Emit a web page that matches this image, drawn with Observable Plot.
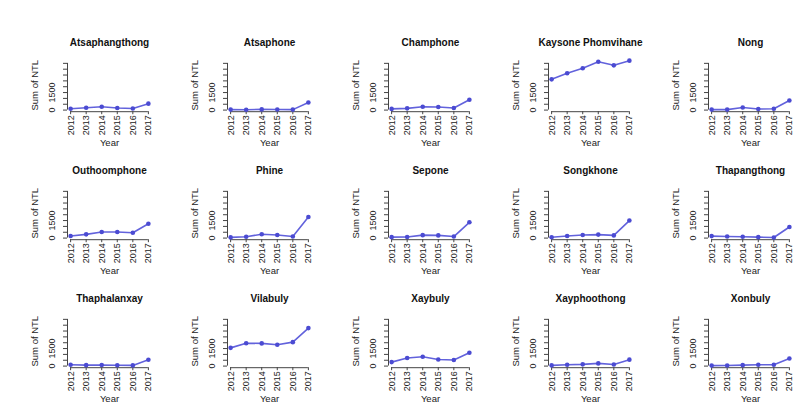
<!DOCTYPE html>
<html><head><meta charset="utf-8">
<script src="https://cdn.jsdelivr.net/npm/d3@7"></script>
<script src="https://cdn.jsdelivr.net/npm/@observablehq/plot@0.6"></script>
<style>
html,body{margin:0;padding:0;background:#fff;overflow:hidden;}
#chart{position:relative;width:797px;height:403px;background:#fff;overflow:hidden;}
.panel{position:absolute;width:160px;height:124px;}
.panel svg{max-width:none !important;}
</style></head><body><div id="chart"></div>
<script>
const years = [2012, 2013, 2014, 2015, 2016, 2017];
const districts = ["Atsaphangthong","Atsaphone","Champhone","Kaysone Phomvihane","Nong",
  "Outhoomphone","Phine","Sepone","Songkhone","Thapangthong",
  "Thaphalanxay","Vilabuly","Xaybuly","Xayphoothong","Xonbuly"];
const atsaphangthong = [120, 200, 280, 180, 130, 550];
const atsaphone      = [40, 30, 60, 50, 40, 650];
const champhone      = [100, 150, 280, 270, 180, 880];
const kaysone        = [2630, 3150, 3580, 4140, 3830, 4230];
const nong           = [40, 40, 220, 90, 110, 820];
const outhoomphone   = [180, 320, 520, 520, 460, 1230];
const phine          = [60, 120, 330, 270, 130, 1800];
const sepone         = [80, 90, 250, 230, 130, 1350];
const songkhone      = [70, 180, 260, 300, 230, 1500];
const thapangthong   = [170, 140, 120, 80, 50, 950];
const thaphalanxay   = [120, 80, 90, 70, 60, 540];
const vilabuly       = [1560, 1960, 1940, 1820, 2050, 3250];
const xaybuly        = [340, 690, 800, 570, 520, 1140];
const xayphoothong   = [60, 120, 150, 230, 140, 550];
const xonbuly        = [40, 50, 80, 110, 110, 650];
const seriesValues = [atsaphangthong, atsaphone, champhone, kaysone, nong,
  outhoomphone, phine, sepone, songkhone, thapangthong,
  thaphalanxay, vilabuly, xaybuly, xayphoothong, xonbuly];
const yTicks = [0, 500, 1000, 1500, 2000, 2500, 3000, 3500, 4000];
const yTickLabels = [0, 1500];
const xLabel = "Year";
const yLabel = "Sum of NTL";

const all = seriesValues.flat();
const lo = d3.min(all), hi = d3.max(all);
const pad = (hi - lo) * 0.04;
const yDomain = [lo - pad, hi + pad];
const xPad = (years[years.length - 1] - years[0]) * 0.04;
const xDomain = [years[0] - xPad, years[years.length - 1] + xPad];

const font = "'Liberation Sans', Arial, sans-serif";
const lineColor = "#6262dc";
const dotColor = "#4b4bd2";
const axisColor = "#444";
const textColor = "#222";
const chart = document.getElementById("chart");

districts.forEach((name, i) => {
  const r = Math.floor(i / 5), c = i % 5;
  const data = years.map((y, j) => ({year: y, ntl: seriesValues[i][j]}));
  const plot = Plot.plot({
    width: 160, height: 124,
    marginLeft: 67, marginRight: 9, marginTop: 28.2, marginBottom: 42.8,
    x: {domain: xDomain},
    y: {domain: yDomain},
    style: {background: "transparent", overflow: "visible", maxWidth: "none", fontFamily: font, fontSize: "9px", color: textColor},
    marks: [
      Plot.ruleY([yDomain[0]], {x1: years[0], x2: years[years.length - 1], stroke: axisColor, strokeWidth: 1}),
      Plot.ruleX([xDomain[0]], {y1: yTicks[0], y2: yTicks[yTicks.length - 1], stroke: axisColor, strokeWidth: 1}),
      Plot.axisX({ticks: years, tickFormat: "d", tickRotate: -90, tickSize: 3, tickPadding: 0.5,
        label: null, stroke: axisColor, fill: textColor, fontSize: 9}),
      Plot.axisY({ticks: yTicks, tickSize: 4, tickFormat: () => "", label: null, stroke: axisColor}),
      Plot.text(yTickLabels, {x: xDomain[0], y: d => d, text: d => String(d), rotate: -90, dx: -15,
        textAnchor: "middle", lineAnchor: "middle", fontSize: 9, fill: textColor}),
      Plot.text([yLabel], {frameAnchor: "left", dx: -33, rotate: -90, textAnchor: "middle", lineAnchor: "middle",
        fontSize: 9.5, fill: textColor}),
      Plot.text([xLabel], {frameAnchor: "bottom", dy: 31.3, textAnchor: "middle", lineAnchor: "middle",
        fontSize: 9.5, fill: textColor}),
      Plot.text([name], {frameAnchor: "top", dy: -16.2, textAnchor: "middle", lineAnchor: "middle",
        fontSize: 10, fontWeight: "bold", fill: "#111"}),
      Plot.line(data, {x: "year", y: "ntl", stroke: lineColor, strokeWidth: 1.6}),
      Plot.dot(data, {x: "year", y: "ntl", r: 2.3, fill: dotColor, stroke: "none"})
    ]
  });
  const wrap = document.createElement("div");
  wrap.className = "panel";
  wrap.style.left = (c * 160.3) + "px";
  wrap.style.top = (29.5 + r * 128) + "px";
  wrap.appendChild(plot);
  chart.appendChild(wrap);
});
</script>
</body></html>
